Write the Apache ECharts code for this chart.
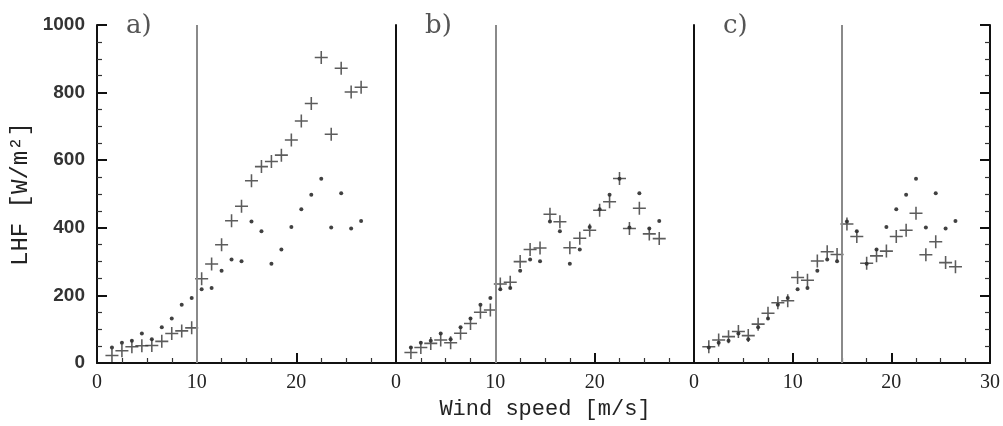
<!DOCTYPE html>
<html>
<head>
<meta charset="utf-8">
<script src="https://cdn.jsdelivr.net/npm/echarts@6/dist/echarts.min.js"></script>
<style>
  html, body { margin: 0; padding: 0; background: #fff; }
  #lhf_chart { width: 1003px; height: 426px; }
</style>
</head>
<body>
<div id="lhf_chart"></div>
<script>
// wind speed bins (m/s), same for all three panels
var windSpeed = [1.5, 2.5, 3.5, 4.5, 5.5, 6.5, 7.5, 8.5, 9.5, 10.5, 11.5, 12.5, 13.5,
    14.5, 15.5, 16.5, 17.5, 18.5, 19.5, 20.5, 21.5, 22.5, 23.5, 24.5, 25.5, 26.5];

// reference LHF (dots), repeated in every panel
var refLHF = [46, 60, 66, 87, 70, 106, 132, 172, 192, 218, 222, 273, 306, 301, 419, 390,
    294, 336, 402, 455, 498, 545, 401, 502, 398, 420];

// parameterised LHF (crosses) for panels a), b), c)
var lhfA = [22, 36, 48, 51, 52, 64, 87, 95, 104, 249, 293, 350, 421, 464, 539, 581,
    596, 615, 660, 716, 768, 904, 677, 872, 802, 816];
var lhfB = [31, 46, 58, 68, 60, 88, 117, 150, 157, 234, 239, 300, 336, 340, 440, 418,
    341, 369, 393, 452, 477, 546, 398, 458, 382, 368];
var lhfC = [48, 68, 78, 93, 81, 115, 147, 178, 184, 253, 245, 302, 329, 321, 411, 374,
    295, 317, 331, 374, 393, 443, 320, 359, 297, 285];

var panelNames = ['a)', 'b)', 'c)'];
var splitSpeed = [10, 10, 15];

var myChart = echarts.init(document.getElementById('lhf_chart'));

var crossPath = 'path://M4.4,0H5.6V4.4H10V5.6H5.6V10H4.4V5.6H0V4.4H4.4Z';
var tickFont = 'Liberation Sans';
var labelFont = 'Liberation Mono';

function pairs(xs, ys) {
    return xs.map(function (x, i) { return [x, ys[i]]; });
}

var grids = [
    {left: 97, top: 25, width: 299, height: 338},
    {left: 396, top: 25, width: 298, height: 338},
    {left: 694, top: 25, width: 299, height: 338}
];

var xAxes = grids.map(function (g, i) {
    return {
        type: 'value', gridIndex: i, min: 0, max: 30, interval: 10,
        axisLine: {lineStyle: {color: '#111', width: 2}},
        axisTick: {inside: true, length: 10, lineStyle: {color: '#111', width: 2}},
        minorTick: {show: true, splitNumber: 4, length: 5, lineStyle: {color: '#333', width: 1.2}},
        splitLine: {show: false},
        axisLabel: {
            margin: 10, fontFamily: 'Liberation Serif', fontSize: 20, color: '#222',
            showMaxLabel: i === 2
        },
        name: i === 1 ? 'Wind speed [m/s]' : '',
        nameLocation: 'middle', nameGap: 34,
        nameTextStyle: {fontFamily: labelFont, fontSize: 22, color: '#222'}
    };
});

var yAxes = [
    {
        type: 'value', gridIndex: 0, min: 0, max: 1000, interval: 200,
        axisLine: {show: true, lineStyle: {color: '#111', width: 2}},
        axisTick: {inside: true, length: 10, lineStyle: {color: '#111', width: 2}},
        minorTick: {show: true, splitNumber: 4, length: 5, lineStyle: {color: '#333', width: 1.2}},
        splitLine: {show: false},
        axisLabel: {
            margin: 12, fontFamily: tickFont, fontSize: 19, fontWeight: 'bold', color: '#333',
            formatter: function (v) { return String(v); }
        },
        name: 'LHF [W/m²]', nameLocation: 'middle', nameGap: 64, nameRotate: 90,
        nameTextStyle: {fontFamily: labelFont, fontSize: 24, color: '#222'}
    },
    {
        type: 'value', gridIndex: 1, min: 0, max: 1000, interval: 200,
        axisLine: {show: true, lineStyle: {color: '#111', width: 2}},
        axisTick: {show: false}, axisLabel: {show: false}, splitLine: {show: false}
    },
    {
        type: 'value', gridIndex: 2, min: 0, max: 1000, interval: 200,
        axisLine: {show: true, lineStyle: {color: '#111', width: 2}},
        axisTick: {show: false}, axisLabel: {show: false}, splitLine: {show: false}
    },
    {
        type: 'value', gridIndex: 2, position: 'right', min: 0, max: 1000, interval: 200,
        axisLine: {show: true, lineStyle: {color: '#111', width: 2}},
        axisTick: {inside: true, length: 10, lineStyle: {color: '#111', width: 2}},
        minorTick: {show: true, splitNumber: 4, length: 5, lineStyle: {color: '#333', width: 1.2}},
        axisLabel: {show: false}, splitLine: {show: false}
    }
];

var crossSets = [lhfA, lhfB, lhfC];
var series = [];
crossSets.forEach(function (vals, i) {
    series.push({
        type: 'scatter', xAxisIndex: i, yAxisIndex: i,
        symbol: 'circle', symbolSize: 4,
        itemStyle: {color: '#111'},
        data: pairs(windSpeed, refLHF),
        markLine: {
            silent: true, symbol: 'none',
            label: {show: false},
            lineStyle: {color: '#8a8a8a', width: 2, type: 'solid'},
            data: [{xAxis: splitSpeed[i]}]
        }
    });
    series.push({
        type: 'scatter', xAxisIndex: i, yAxisIndex: i,
        symbol: crossPath, symbolSize: 13,
        itemStyle: {color: '#333'},
        data: pairs(windSpeed, vals)
    });
});

var panelLabels = panelNames.map(function (t, i) {
    return {
        type: 'text', left: grids[i].left + 29, top: 13,
        style: {text: t, font: '26px "DejaVu Serif"', fill: '#555'}
    };
});

myChart.setOption({
    animation: false,
    grid: grids,
    xAxis: xAxes,
    yAxis: yAxes,
    series: series,
    graphic: panelLabels
});
</script>
</body>
</html>
